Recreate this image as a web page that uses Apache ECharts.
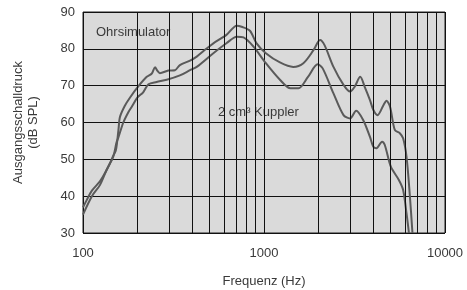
<!DOCTYPE html>
<html>
<head>
<meta charset="utf-8">
<script src="https://cdn.jsdelivr.net/npm/echarts@6/dist/echarts.min.js"></script>
<style>
  html, body { margin: 0; padding: 0; background: #fff; }
  #chart { width: 467px; height: 290px; }
</style>
</head>
<body>
<div id="chart"></div>
<script>
// Ohrsimulator curve (Hz / dB SPL)
const ohrFreq = [100, 105, 112, 124, 133, 141, 147, 152, 157, 160, 170, 182, 202, 225, 240, 250, 258, 266, 296, 322, 343, 390, 425, 480, 525, 620, 707, 752, 836, 910, 1024, 1225, 1450, 1650, 1880, 2040, 2160, 2420, 2750, 2990, 3170, 3400, 3600, 3850, 4020, 4240, 4570, 4750, 4970, 5280, 5630, 5870, 6130, 6400, 6610]
const ohrLevel = [37, 39, 41.5, 44, 46.5, 49, 51, 52.5, 58, 61.5, 64.5, 66.8, 69.8, 72.4, 73.3, 75, 74, 73.4, 74.1, 74.2, 75.6, 76.8, 77.9, 80, 81.5, 83.8, 86.3, 86, 84.9, 81.5, 78.8, 76.3, 75.1, 76.1, 79.7, 82.4, 81, 75.1, 70.2, 68.4, 69.7, 72.4, 69.7, 66.1, 63.4, 62, 64.7, 65.9, 64.3, 58, 57.1, 55.7, 50.7, 39.9, 30]

// 2 cm³ Kuppler curve
const kupFreq = [100, 112, 124, 135, 147, 153, 157, 167, 178, 186, 200, 215, 230, 255, 290, 343, 390, 425, 525, 620, 707, 770, 875, 1024, 1225, 1400, 1550, 1750, 1980, 2110, 2420, 2750, 2990, 3230, 3530, 3850, 4020, 4180, 4490, 4650, 5020, 5560, 5870, 6130, 6320]
const kupLevel = [35, 40, 43, 47.1, 50.7, 54.5, 56, 60, 62.8, 64.3, 66.8, 68.2, 70.4, 71, 71.6, 72.8, 74.2, 75.1, 78.8, 81.5, 83.3, 83.1, 80.6, 76.1, 71.6, 69.3, 69.3, 72.4, 75.8, 74.7, 67.9, 62, 61.1, 63.2, 60.7, 56.1, 53.4, 53, 54.8, 53.9, 48, 44.4, 41.7, 35.3, 30]

// minor log grid lines
const minorFreq = [200, 300, 400, 500, 600, 700, 800, 900, 2000, 3000, 4000, 5000, 6000, 7000, 8000, 9000]

const textColor = '#3a3a3a'
const curveColor = '#5a5a5a'
const font = 'Liberation Sans'

const chart = echarts.init(document.getElementById('chart'))
chart.setOption({
  animation: false,
  grid: {
    left: 83,
    right: 22,
    top: 12,
    bottom: 57,
    outerBoundsMode: 'none',
    show: true,
    backgroundColor: '#dadada',
    borderColor: '#222',
    borderWidth: 1
  },
  xAxis: {
    type: 'log',
    logBase: 10,
    min: 100,
    max: 10000,
    name: 'Frequenz (Hz)',
    nameLocation: 'middle',
    nameGap: 42,
    nameTextStyle: { color: textColor, fontFamily: font, fontSize: 13 },
    axisLine: { show: false },
    axisTick: { show: false },
    axisLabel: {
      color: textColor,
      fontFamily: font,
      fontSize: 13,
      margin: 14,
      formatter: (v) => String(Math.round(v))
    },
    splitLine: { show: true, lineStyle: { color: '#111', width: 1 } }
  },
  yAxis: {
    type: 'value',
    min: 30,
    max: 90,
    interval: 10,
    name: 'Ausgangsschalldruck\n(dB SPL)',
    nameLocation: 'middle',
    nameRotate: 90,
    nameGap: 42,
    nameTextStyle: { color: textColor, fontFamily: font, fontSize: 13, lineHeight: 15 },
    axisLine: { show: false },
    axisTick: { show: false },
    axisLabel: { color: textColor, fontFamily: font, fontSize: 13, margin: 8 },
    splitLine: { show: true, lineStyle: { color: '#111', width: 1 } }
  },
  graphic: [
    {
      type: 'text', left: 96, top: 26,
      style: { text: 'Ohrsimulator', fill: textColor, font: '13px "Liberation Sans"' }
    },
    {
      type: 'text', left: 218, top: 106,
      style: { text: '2 cm³ Kuppler', fill: textColor, font: '13px "Liberation Sans"' }
    }
  ],
  series: [
    {
      name: 'Ohrsimulator',
      type: 'line',
      data: ohrFreq.map((f, i) => [f, ohrLevel[i]]),
      smooth: 0.3,
      symbol: 'none',
      lineStyle: { color: curveColor, width: 2 },
      z: 3,
      markLine: {
        silent: true,
        symbol: 'none',
        label: { show: false },
        lineStyle: { color: '#111', width: 1, type: 'solid' },
        data: minorFreq.map(f => ({ xAxis: f }))
      }
    },
    {
      name: '2 cm³ Kuppler',
      type: 'line',
      data: kupFreq.map((f, i) => [f, kupLevel[i]]),
      smooth: 0.3,
      symbol: 'none',
      lineStyle: { color: curveColor, width: 2 },
      z: 3
    }
  ]
})
</script>
</body>
</html>
